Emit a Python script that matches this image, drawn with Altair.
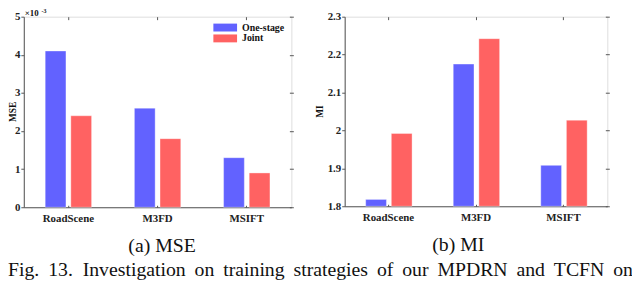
import altair as alt
import pandas as pd

datasets = ["RoadScene", "M3FD", "MSIFT"]
methods = ["One-stage", "Joint"]
mse_one = [4.1, 2.6, 1.3]
mse_joint = [2.4, 1.8, 0.9]
mi_one = [1.818, 2.175, 1.908]
mi_joint = [1.992, 2.242, 2.027]
mse_ticks = [0, 1, 2, 3, 4, 5]
mi_ticks = [1.8, 1.9, 2.0, 2.1, 2.2, 2.3]
colors = ["#6262FF", "#FF6262"]
captions = ["(a) MSE", "(b) MI"]
fig_words = ["Fig.", "13.\u00a0\u00a0Investigation", "on", "training", "strategies", "of", "our",
             "MPDRN", "and", "TCFN", "on"]
fig_caption = " \u2009".join(fig_words)

FONT = "Liberation Serif, Times New Roman, Times, serif"
BOLD = "bold"
AX = "#555"


def frame(one, joint):
    rows = []
    for d, a, b in zip(datasets, one, joint):
        rows.append({"dataset": d, "method": methods[0], "value": a})
        rows.append({"dataset": d, "method": methods[1], "value": b})
    return pd.DataFrame(rows)


def text_layer(txt, x, y, size, weight="normal", align="left", baseline="alphabetic", angle=0):
    return alt.Chart(pd.DataFrame({"t": [txt]})).mark_text(
        font=FONT, fontSize=size, fontWeight=weight, color="#111", align=align,
        baseline=baseline, angle=angle
    ).encode(text="t:N", x=alt.value(x), y=alt.value(y))


def tick_axis(orient, values=None, size=3, offset=-3):
    kw = dict(orient=orient, title=None, labels=False, domain=False, grid=False,
              tickSize=size, tickColor=AX, offset=offset)
    if values is not None:
        kw["values"] = values
    return alt.Axis(**kw)


def panel(df, domain, ticks, ytitle, ytx, fmt, w, h, lx, ly, loff, caption, cap_x, extra=None):
    xscale = alt.Scale(paddingInner=0.48, paddingOuter=0.24)
    yscale = alt.Scale(domain=domain, nice=False, zero=False, clamp=True)
    bars = alt.Chart(df).mark_bar(stroke="#FFFFFF", strokeWidth=0.6, strokeOpacity=0.6).encode(
        x=alt.X("dataset:N", sort=datasets, scale=xscale,
                axis=alt.Axis(title=None, labelAngle=0, labelFont=FONT, labelFontWeight=BOLD,
                              labelFontSize=11, labelColor="#222", labelPadding=5,
                              tickSize=0, domainColor=AX)),
        xOffset=alt.XOffset("method:N", sort=methods,
                            scale=alt.Scale(paddingInner=0.19, paddingOuter=0)),
        y=alt.Y("value:Q", scale=yscale,
                axis=alt.Axis(title=None, values=ticks, format=fmt, grid=False,
                              labelFont=FONT, labelFontWeight=BOLD, labelFontSize=11,
                              labelColor="#222", labelPadding=1, tickSize=3, tickColor=AX,
                              domainColor=AX)),
        y2=alt.datum(domain[0]),
        color=alt.Color("method:N", sort=methods,
                        scale=alt.Scale(domain=methods, range=colors),
                        legend=alt.Legend(title=None, orient="none", legendX=lx, legendY=ly,
                                          symbolType="M-3,-1L3,-1L3,1L-3,1Z",
                                          symbolSize=64, symbolStrokeWidth=0,
                                          labelFont=FONT, labelFontWeight=BOLD, labelFontSize=10,
                                          labelColor="#111", rowPadding=1, padding=0,
                                          labelOffset=loff)),
    )
    ghost_a = alt.Chart(df).mark_point(opacity=0).encode(
        x=alt.X("dataset:N", sort=datasets, scale=xscale, axis=tick_axis("top")),
        y=alt.Y("value:Q", scale=yscale, axis=tick_axis("right", ticks, size=4, offset=-2)),
    )
    ghost_b = alt.Chart(df).mark_point(opacity=0).encode(
        x=alt.X("dataset:N", sort=datasets, scale=xscale, axis=tick_axis("bottom", size=2, offset=-2)),
        y=alt.Y("value:Q", scale=yscale, axis=None),
    )
    layers = [bars, ghost_a, ghost_b,
              text_layer(caption, cap_x, h + 45, 20, align="center"),
              text_layer(ytitle, ytx, h / 2, 9.5, weight=BOLD, align="center",
                         baseline="middle", angle=270)]
    if extra is not None:
        layers.extend(extra)
    return alt.layer(*layers).resolve_axis(x="independent", y="independent").properties(
        width=w, height=h)


mse_df = frame(mse_one, mse_joint)
mi_df = frame(mi_one, mi_joint)

extra_left = [
    text_layer("×10", 1, -1, 9, weight=BOLD),
    text_layer("-3", 18, -3.5, 6, weight=BOLD),
    text_layer(fig_caption, -16, 263, 20),
]

left = panel(mse_df, [0, 5], mse_ticks, "MSE", -11, "d", 271, 193, 199, 6, 12, captions[0], 140,
             extra=extra_left)
right = panel(mi_df, [1.8, 2.3], mi_ticks, "MI", -25, ".1~f", 266, 192, 195.5, 6, 10.5,
              captions[1], 115)

chart = alt.hconcat(left, right, spacing=54, bounds="flush").properties(
    autosize=alt.AutoSizeParams(type="none"),
    padding={"left": 16, "top": 7, "right": 616, "bottom": 274},
).configure_view(stroke=AX, strokeWidth=1).configure(background="white")

chart.save("out.html", embed_options={"renderer": "svg", "actions": False})
